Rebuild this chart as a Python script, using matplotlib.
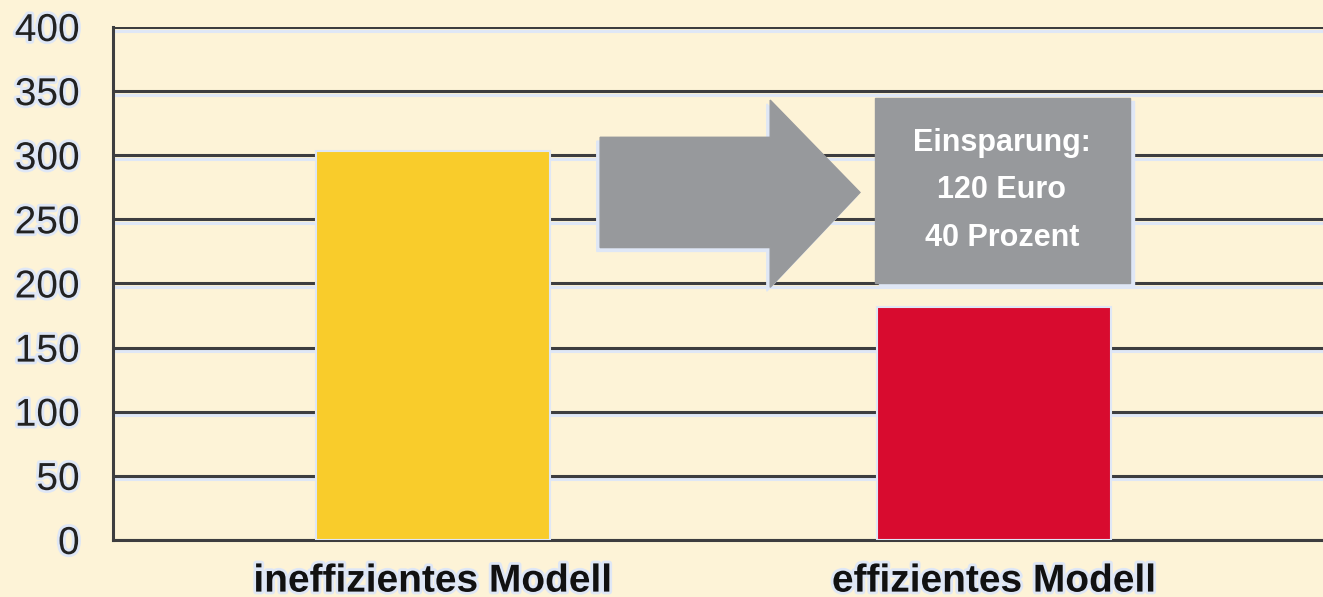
import matplotlib.pyplot as plt
import matplotlib.patheffects as pe
from matplotlib.patches import Polygon, Rectangle
import numpy as np

categories = ["ineffizientes Modell", "effizientes Modell"]
values = [303, 182]
colors = ["#f9cc2b", "#d80b2f"]
yticks = [0, 50, 100, 150, 200, 250, 300, 350, 400]
box_lines = ["Einsparung:", "120 Euro", "40 Prozent"]

bg = "#fdf3d7"
halo = "#dfe7f6"
grey = "#97999c"

plt.rcParams['font.family'] = ['Liberation Sans', 'DejaVu Sans']

fig = plt.figure(figsize=(13.23, 5.97), dpi=100, facecolor=bg)
ax = fig.add_axes([0.0854, 0.0955, 0.9146, 0.8593])
ax.set_facecolor(bg)

x = np.arange(len(categories))
ax.set_xlim(-0.570, 1.586)
ax.set_ylim(0, 400)

# grid lines with a light shadow underneath
for t in yticks:
    ax.axhline(t, color="#3d3d3f", lw=2.2, zorder=1,
               path_effects=[pe.SimpleLineShadow(offset=(0, -2.6), shadow_color=halo, alpha=1, rho=1),
                             pe.Normal()])

ax.bar(x, values, width=0.417, color=colors, edgecolor=halo, linewidth=1.5, zorder=3)

# arrow
shaft = [(0.298, 228), (0.601, 228), (0.601, 197), (0.761, 271),
         (0.601, 343), (0.601, 314), (0.298, 314)]
shadow = [(px - 0.006, py - 3) for px, py in shaft]
ax.add_patch(Polygon(shadow, closed=True, color=halo, zorder=3))
ax.add_patch(Polygon(shaft, closed=True, color=grey, zorder=4))

# savings box
ax.add_patch(Rectangle((0.795, 197), 0.454, 145, color=halo, zorder=3))
ax.add_patch(Rectangle((0.788, 200), 0.454, 145, color=grey, zorder=4))
for line, yy in zip(box_lines, [309.5, 273, 235.5]):
    ax.text(1.014, yy, line, color="white", fontsize=22, fontweight="bold",
            ha="center", va="center", zorder=5)

ax.set_xticks(x)
ax.set_xticklabels(categories, fontsize=28, fontweight="bold", color="#111111")
ax.set_yticks(yticks)
ax.set_yticklabels([str(t) for t in yticks], fontsize=28, color="#222222")
for lab in ax.get_yticklabels() + ax.get_xticklabels():
    lab.set_path_effects([pe.withStroke(linewidth=4, foreground=halo)])
ax.tick_params(axis="both", length=0)
ax.tick_params(axis="y", pad=24)
ax.tick_params(axis="x", pad=17)

for s in ["top", "right"]:
    ax.spines[s].set_visible(False)
ax.spines["left"].set_color("#3d3d3f")
ax.spines["left"].set_linewidth(2.2)
ax.spines["bottom"].set_color("#3d3d3f")
ax.spines["bottom"].set_linewidth(2.2)
ax.spines["left"].set_zorder(6)

fig.savefig("out.png", dpi=100, facecolor=bg)
